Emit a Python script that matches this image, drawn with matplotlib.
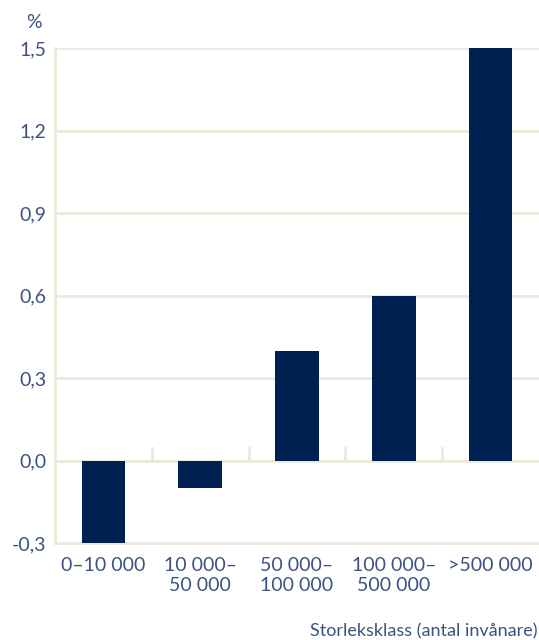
import numpy as np
from matplotlib import pyplot as plt

categories = ['0–10 000', '10 000–\n50 000', '50 000–\n100 000', '100 000–\n500 000', '>500 000']
values = [-0.3, -0.1, 0.4, 0.6, 1.5]
yticks = [-0.3, 0.0, 0.3, 0.6, 0.9, 1.2, 1.5]

navy = '#002052'
text_col = '#3b5283'
grid_col = '#ebe8dc'

plt.rcParams['font.family'] = ['Lato', 'DejaVu Sans']

fig = plt.figure(figsize=(5.39, 6.4), dpi=100)
ax = fig.add_axes([55 / 539, 1 - 543 / 640, 484 / 539, 495 / 640])

x = np.arange(len(categories))
ax.bar(x, values, width=0.45, color=navy, zorder=3)

ax.set_xlim(-0.5, len(categories) - 0.5)
ax.set_ylim(yticks[0], yticks[-1])
ax.set_yticks(yticks)
ax.set_yticklabels([f'{t:.1f}'.replace('.', ',') for t in yticks])
ax.set_xticks(x)
ax.set_xticklabels(categories, linespacing=1.2)

ax.yaxis.grid(True, color=grid_col, linewidth=2, zorder=0)
ax.tick_params(axis='both', length=0, labelsize=14, colors=text_col)
ax.tick_params(axis='x', pad=10)
ax.tick_params(axis='y', pad=6)

# short separators on the zero line
for b in x[:-1] + 0.5:
    ax.plot([b, b], [0, 0.045], color=grid_col, linewidth=2, zorder=1)

for s in ['top', 'right']:
    ax.spines[s].set_visible(False)
for s in ['left', 'bottom']:
    ax.spines[s].set_color(grid_col)
    ax.spines[s].set_linewidth(2)

fig.text(34 / 539, 1 - 22 / 640, '%', color=text_col, fontsize=14, ha='center', va='center')
fig.text(537 / 539, 1 - 631 / 640, 'Storleksklass (antal invånare)', color=text_col,
         fontsize=13, ha='right', va='center')

fig.savefig('out.png', dpi=100)
